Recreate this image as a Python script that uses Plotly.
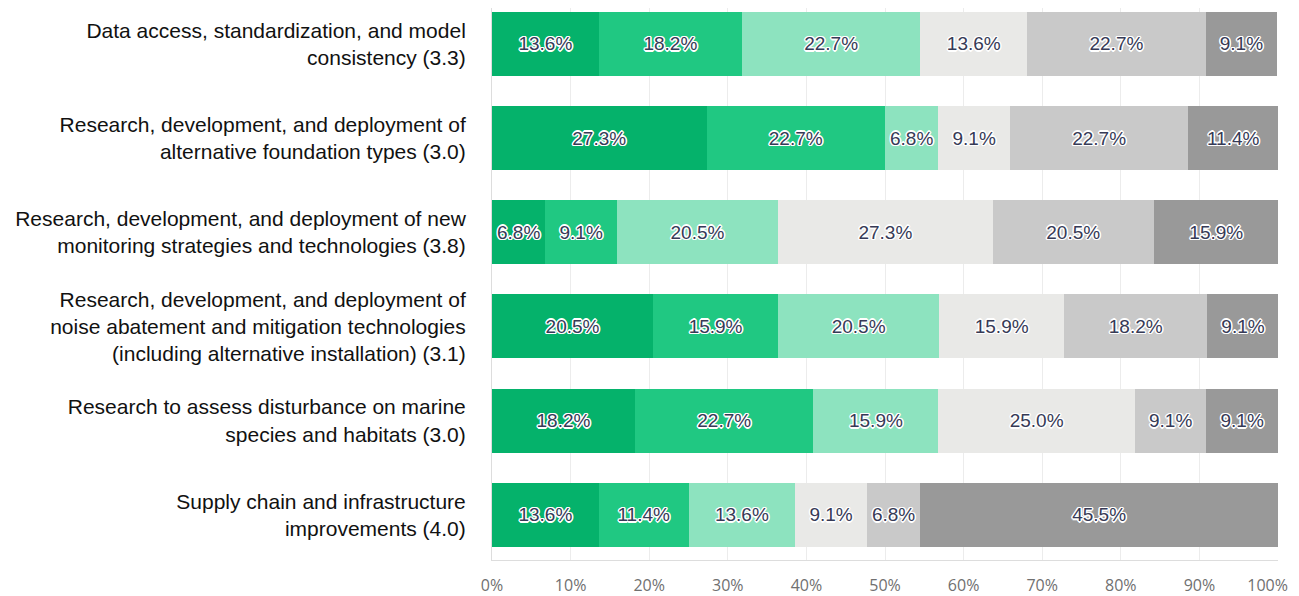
import plotly.graph_objects as go

categories = [
    "Data access, standardization, and model<br>consistency (3.3)",
    "Research, development, and deployment of<br>alternative foundation types (3.0)",
    "Research, development, and deployment of new<br>monitoring strategies and technologies (3.8)",
    "Research, development, and deployment of<br>noise abatement and mitigation technologies<br>(including alternative installation) (3.1)",
    "Research to assess disturbance on marine<br>species and habitats (3.0)",
    "Supply chain and infrastructure<br>improvements (4.0)",
]

rank1 = [13.6, 27.3, 6.8, 20.5, 18.2, 13.6]
rank2 = [18.2, 22.7, 9.1, 15.9, 22.7, 11.4]
rank3 = [22.7, 6.8, 20.5, 20.5, 15.9, 13.6]
rank4 = [13.6, 9.1, 27.3, 15.9, 25.0, 9.1]
rank5 = [22.7, 22.7, 20.5, 18.2, 9.1, 6.8]
rank6 = [9.1, 11.4, 15.9, 9.1, 9.1, 45.5]

series = [rank1, rank2, rank3, rank4, rank5, rank6]
series_names = ["1", "2", "3", "4", "5", "6"]
colors = ["#05b26b", "#20c882", "#8de3bf", "#e9e9e7", "#c9c9c9", "#999999"]

tick_vals = [0, 10, 20, 30, 40, 50, 60, 70, 80, 90, 100]
tick_text = [f"{v}%" for v in tick_vals]
tick_text[-1] = tick_text[-1] + "\u00a0" * 5

fig = go.Figure()
halo = ("1.5px 0 0 #fff, -1.5px 0 0 #fff, 0 1.5px 0 #fff, 0 -1.5px 0 #fff, "
        "1px 1px 0 #fff, -1px -1px 0 #fff, 1px -1px 0 #fff, -1px 1px 0 #fff")
for name, vals, col in zip(series_names, series, colors):
    fig.add_trace(go.Bar(
        y=categories, x=vals, name=name, orientation="h",
        marker=dict(color=col, line=dict(width=0)),
        text=[f"{v:.1f}%" for v in vals],
        textposition="inside", insidetextanchor="middle",
        textangle=0,
        textfont=dict(family="Liberation Sans, Arial, sans-serif", size=19, color="#363a56", shadow=halo),
        hoverinfo="skip",
    ))

fig.update_layout(
    barmode="stack",
    width=1299, height=596,
    margin=dict(l=484, r=29, t=0, b=44),
    paper_bgcolor="white", plot_bgcolor="white",
    showlegend=False,
    bargap=0.32,
    uniformtext=dict(minsize=19, mode="show"),
    xaxis=dict(
        range=[0, 100], tickvals=tick_vals, ticktext=tick_text,
        showgrid=True, gridcolor="#ececec", gridwidth=1,
        showline=True, linecolor="#dddddd", linewidth=1,
        tickfont=dict(family="Open Sans, sans-serif", size=16, color="#707070"),
        ticks="", ticklabelstandoff=11, ticklabeloverflow="allow",
        zeroline=False, fixedrange=True, automargin=False,
    ),
    yaxis=dict(
        range=[5.48, -0.382],
        showline=True, linecolor="#dddddd", linewidth=1,
        tickfont=dict(family="Liberation Sans, Arial, sans-serif", size=21, color="#111111"),
        ticks="", ticklen=0, ticklabelstandoff=21, showgrid=False, automargin=False,
    ),
)

fig.write_html("out.html")
